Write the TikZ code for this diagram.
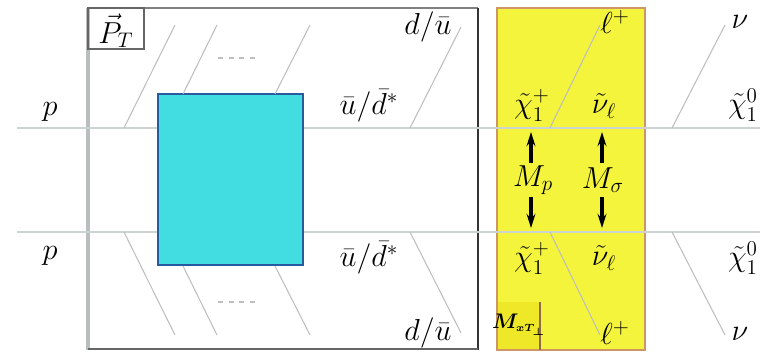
\documentclass[tikz,border=0pt]{standalone}
\usepackage{amsmath,bm}
\usetikzlibrary{arrows.meta}
\definecolor{cyanfill}{RGB}{66,221,224}
\definecolor{cyanedge}{RGB}{40,90,160}
\definecolor{yel}{RGB}{244,244,60}
\definecolor{yeldark}{RGB}{238,232,40}
\definecolor{yeledge}{RGB}{205,150,100}
\definecolor{beam}{RGB}{205,210,210}
\definecolor{leg}{RGB}{190,190,190}
\tikzset{
  lbl/.style={inner sep=0pt, font=\fontsize{18}{20}\selectfont},
  beamline/.style={draw=beam, line width=1.3pt},
  legline/.style={draw=leg, line width=0.6pt},
  marrow/.style={-{Stealth[length=8pt,width=5pt]}, line width=1.8pt, black},
}
\begin{document}
\begin{tikzpicture}[x=0.02cm,y=-0.02cm]
\useasboundingbox (0,0) rectangle (767,352);
% yellow box
\fill[yel] (497,8) rectangle (645,350);
\draw[yeledge, line width=1.2pt] (497,8) rectangle (645,350);
\fill[yeldark] (498,302) rectangle (540,349);
\draw[yeledge!70!black, line width=0.8pt] (540,302) -- (540,350);
\node[lbl, font=\fontsize{12.5}{14}\selectfont] (mx) at (519,325) {$\bm{M}_{\scriptscriptstyle\bm{xT_\perp}}$};
% left box
\draw[beam!90!black, line width=1.8pt] (88,8) -- (88,350);
\draw[gray, line width=1.2pt] (88,8) -- (478,8);
\draw[black!80, line width=1.4pt] (478,8) -- (478,350);
\draw[gray!80!black, line width=1.2pt] (88,349) -- (478,349);
\node[draw=gray!80!black, line width=0.9pt, minimum width=1.12cm, minimum height=0.82cm, inner sep=0pt] (pt) at (116,28.5) {};
\node[lbl] (ptl) at (116,31) {$\vec{P}_T$};
% beams
\coordinate (b1l) at (17,128); \coordinate (b1r) at (760,128);
\coordinate (b2l) at (17,232); \coordinate (b2r) at (760,232);
\draw[beamline] (b1l) -- (b1r);
\draw[beamline] (b2l) -- (b2r);
% cyan blob
\node[draw=cyanedge, fill=cyanfill, line width=1.2pt, minimum width=2.9cm, minimum height=3.42cm, inner sep=0pt] (blob) at (230.5,179.5) {};
% upper legs
\coordinate (u1a) at (124,128); \coordinate (u1b) at (175,25);
\coordinate (u2a) at (183,94);  \coordinate (u2b) at (217,25);
\coordinate (u3a) at (275,94);  \coordinate (u3b) at (310,25);
\coordinate (u4a) at (410,128); \coordinate (u4b) at (461,27);
\coordinate (u5a) at (550,128); \coordinate (u5b) at (600,25);
\coordinate (u6a) at (672,128); \coordinate (u6b) at (725,25);
\coordinate (ud1) at (218,58); \coordinate (ud2) at (258,58);
\foreach \i in {1,...,6} {\draw[legline] (u\i a) -- (u\i b);}
\draw[legline, dashed] (ud1) -- (ud2);
% lower legs
\coordinate (l1a) at (124,232); \coordinate (l1b) at (175,335);
\coordinate (l2a) at (183,266); \coordinate (l2b) at (217,335);
\coordinate (l3a) at (275,266); \coordinate (l3b) at (310,335);
\coordinate (l4a) at (410,232); \coordinate (l4b) at (461,333);
\coordinate (l5a) at (550,232); \coordinate (l5b) at (600,335);
\coordinate (l6a) at (672,232); \coordinate (l6b) at (725,335);
\coordinate (ld1) at (218,302); \coordinate (ld2) at (258,302);
\foreach \i in {1,...,6} {\draw[legline] (l\i a) -- (l\i b);}
\draw[legline, dashed] (ld1) -- (ld2);
% labels upper
\node[lbl] (p1) at (50,112) {$p$};
\node[lbl] (q1) at (369,106) {$\bar u/\bar d^{*}$};
\node[lbl] (d1) at (428,27) {$d/\bar u$};
\node[lbl] (c1) at (532,105) {$\tilde\chi_1^+$};
\node[lbl] (n1) at (604,106) {$\tilde\nu_\ell$};
\node[lbl] (l1) at (615,22) {$\ell^+$};
\node[lbl] (v1) at (740,22) {$\nu$};
\node[lbl] (z1) at (743,105) {$\tilde\chi_1^0$};
% labels lower
\node[lbl] (p2) at (50,256) {$p$};
\node[lbl] (q2) at (369,258) {$\bar u/\bar d^{*}$};
\node[lbl] (d2) at (428,333) {$d/\bar u$};
\node[lbl] (c2) at (532,258) {$\tilde\chi_1^+$};
\node[lbl] (n2) at (604,258) {$\tilde\nu_\ell$};
\node[lbl] (l2) at (615,333) {$\ell^+$};
\node[lbl] (v2) at (740,334) {$\nu$};
\node[lbl] (z2) at (743,258) {$\tilde\chi_1^0$};
% masses and arrows
\node[lbl] (mp) at (533,180) {$M_p$};
\node[lbl] (ms) at (603,180) {$M_\sigma$};
\coordinate (mpu) at (531,132); \coordinate (mpd) at (531,228);
\coordinate (msu) at (602,132); \coordinate (msd) at (602,228);
\coordinate (mpu0) at (531,163); \coordinate (mpd0) at (531,197);
\coordinate (msu0) at (602,163); \coordinate (msd0) at (602,197);
\draw[marrow] (mpu0) -- (mpu);
\draw[marrow] (mpd0) -- (mpd);
\draw[marrow] (msu0) -- (msu);
\draw[marrow] (msd0) -- (msd);
\end{tikzpicture}
\end{document}
